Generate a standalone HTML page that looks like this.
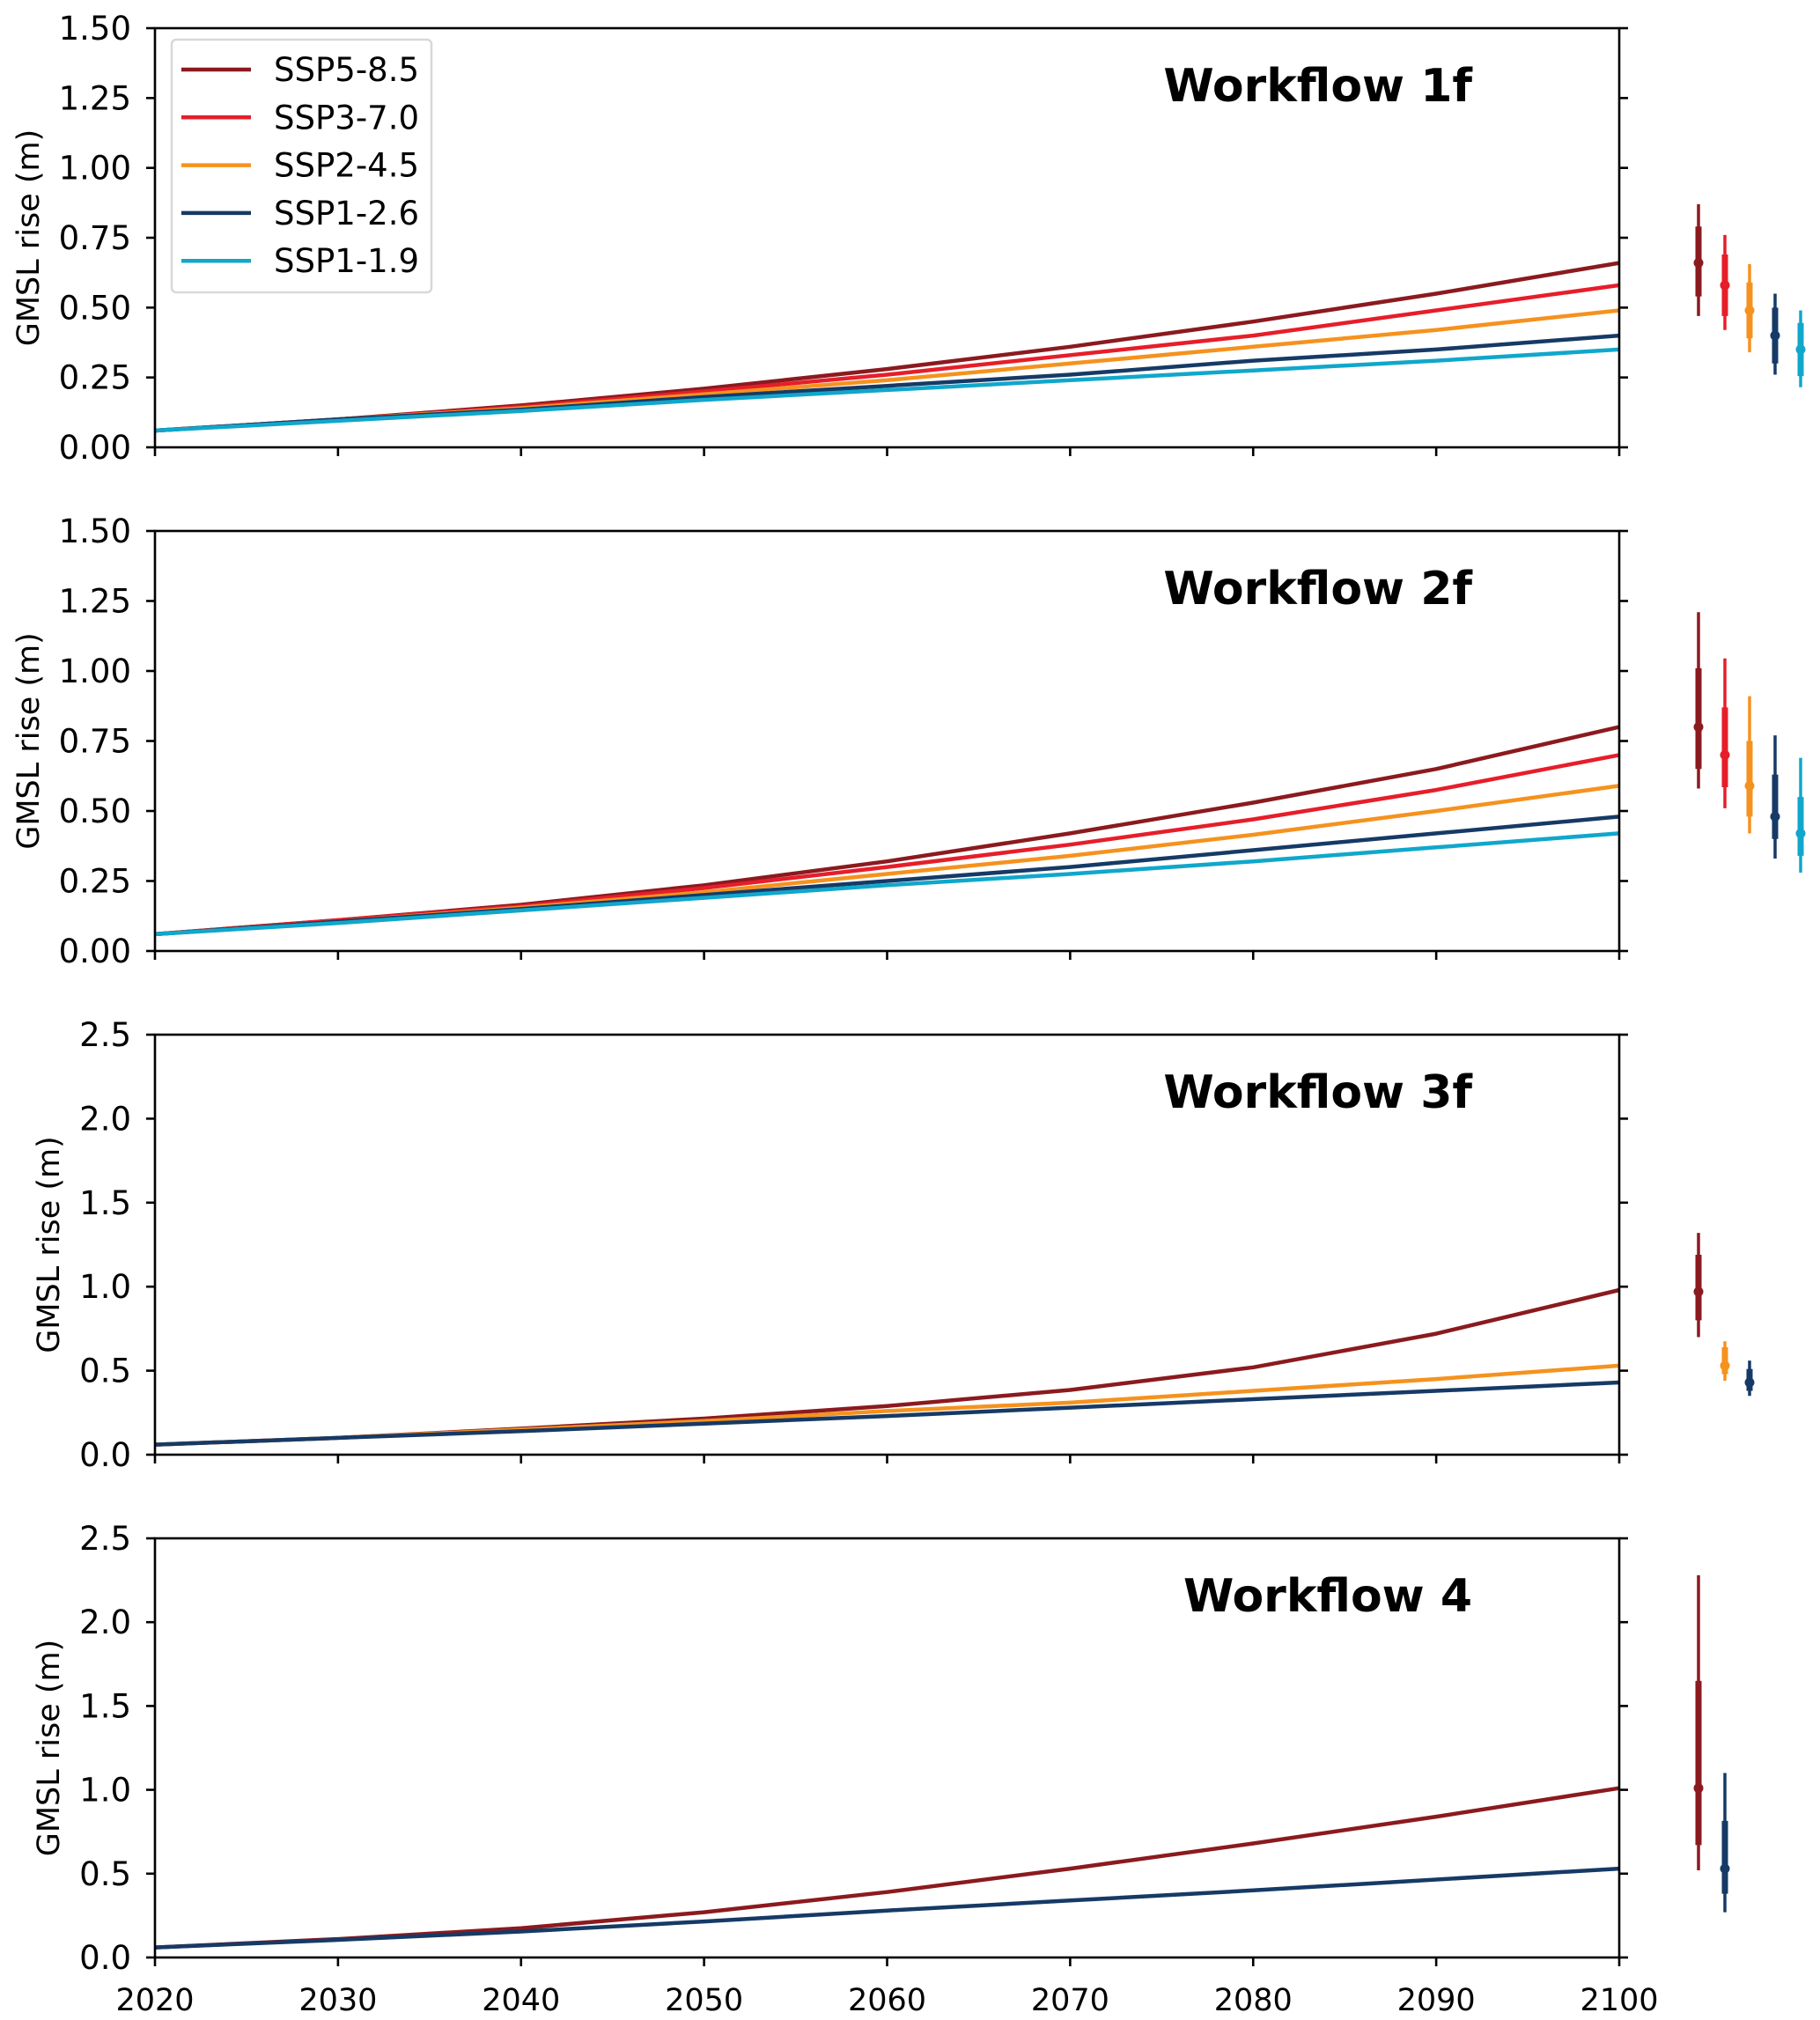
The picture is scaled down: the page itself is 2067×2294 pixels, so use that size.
<!DOCTYPE html>
<html><head><meta charset="utf-8"><style>
html,body{margin:0;padding:0;background:#fff;}
svg{display:block;font-family:"DejaVu Sans","Liberation Sans",sans-serif;}
</style></head><body>
<svg id="c" width="2067" height="2294" viewBox="0 0 2067 2294" xmlns="http://www.w3.org/2000/svg"></svg>
<script>
const years=[2020,2030,2040,2050,2060,2070,2080,2090,2100];
const scenarioNames=["SSP5-8.5","SSP3-7.0","SSP2-4.5","SSP1-2.6","SSP1-1.9"];
const scenarioColors={"SSP5-8.5":"#8b1a1f","SSP3-7.0":"#e61e2a","SSP2-4.5":"#f5921e","SSP1-2.6":"#163a66","SSP1-1.9":"#10a7cb"};
const panelTitles=["Workflow 1f","Workflow 2f","Workflow 3f","Workflow 4"];
const yTicks1=[0,0.25,0.5,0.75,1.0,1.25,1.5];
const yTickLabels1=["0.00","0.25","0.50","0.75","1.00","1.25","1.50"];
const yTicks2=[0,0.5,1.0,1.5,2.0,2.5];
const yTickLabels2=["0.0","0.5","1.0","1.5","2.0","2.5"];
// panel 1 series
const p1_ssp585=[0.06,0.10,0.15,0.21,0.28,0.36,0.45,0.55,0.66];
const p1_ssp370=[0.06,0.10,0.145,0.20,0.26,0.33,0.40,0.49,0.58];
const p1_ssp245=[0.06,0.10,0.14,0.19,0.24,0.30,0.36,0.42,0.49];
const p1_ssp126=[0.06,0.10,0.135,0.18,0.22,0.26,0.31,0.35,0.40];
const p1_ssp119=[0.06,0.095,0.13,0.17,0.205,0.24,0.275,0.31,0.35];
// panel 2
const p2_ssp585=[0.06,0.11,0.165,0.235,0.32,0.42,0.53,0.65,0.80];
const p2_ssp370=[0.06,0.11,0.16,0.225,0.30,0.38,0.47,0.575,0.70];
const p2_ssp245=[0.06,0.105,0.155,0.21,0.275,0.34,0.415,0.50,0.59];
const p2_ssp126=[0.06,0.105,0.15,0.20,0.25,0.30,0.36,0.42,0.48];
const p2_ssp119=[0.06,0.10,0.145,0.19,0.235,0.275,0.32,0.37,0.42];
// panel 3
const p3_ssp585=[0.06,0.10,0.155,0.215,0.29,0.385,0.52,0.72,0.98];
const p3_ssp245=[0.06,0.10,0.15,0.20,0.26,0.31,0.38,0.45,0.53];
const p3_ssp126=[0.06,0.10,0.14,0.185,0.23,0.28,0.33,0.38,0.43];
// panel 4
const p4_ssp585=[0.06,0.11,0.175,0.27,0.39,0.53,0.68,0.84,1.01];
const p4_ssp126=[0.06,0.105,0.155,0.215,0.28,0.34,0.40,0.465,0.53];
// 2100 ranges: [p5, p17, median, p83, p95]
const r1=[[0.47,0.54,0.66,0.79,0.87],[0.42,0.47,0.58,0.69,0.76],[0.34,0.39,0.49,0.59,0.656],[0.26,0.30,0.40,0.50,0.55],[0.215,0.255,0.35,0.445,0.49]];
const r2=[[0.58,0.65,0.80,1.01,1.21],[0.51,0.585,0.70,0.87,1.045],[0.42,0.48,0.59,0.75,0.91],[0.33,0.40,0.48,0.63,0.77],[0.28,0.34,0.42,0.55,0.69]];
const r3=[[0.70,0.80,0.97,1.19,1.32],[0.44,0.48,0.53,0.64,0.675],[0.35,0.38,0.43,0.51,0.56]];
const r4=[[0.52,0.67,1.01,1.65,2.28],[0.27,0.38,0.53,0.815,1.10]];

const panels=[
 {top:32,bot:508,ymax:1.5,ticks:yTicks1,labels:yTickLabels1,lx:32,series:[["SSP5-8.5",p1_ssp585],["SSP3-7.0",p1_ssp370],["SSP2-4.5",p1_ssp245],["SSP1-2.6",p1_ssp126],["SSP1-1.9",p1_ssp119]],ranges:r1,legend:true},
 {top:603,bot:1080,ymax:1.5,ticks:yTicks1,labels:yTickLabels1,lx:32,series:[["SSP5-8.5",p2_ssp585],["SSP3-7.0",p2_ssp370],["SSP2-4.5",p2_ssp245],["SSP1-2.6",p2_ssp126],["SSP1-1.9",p2_ssp119]],ranges:r2},
 {top:1175,bot:1652,ymax:2.5,ticks:yTicks2,labels:yTickLabels2,lx:55,series:[["SSP5-8.5",p3_ssp585],["SSP2-4.5",p3_ssp245],["SSP1-2.6",p3_ssp126]],ranges:r3},
 {top:1747,bot:2223,ymax:2.5,ticks:yTicks2,labels:yTickLabels2,lx:55,series:[["SSP5-8.5",p4_ssp585],["SSP1-2.6",p4_ssp126]],ranges:r4,xlabels:true}
];
const L=176,R=1839;
const barX=[1929,1959,1987,2016,2045];
const svg=document.getElementById('c');
const NS="http://www.w3.org/2000/svg";
function mk(tag,attrs,parent){const e=document.createElementNS(NS,tag);for(const k in attrs)e.setAttribute(k,attrs[k]);(parent||svg).appendChild(e);return e;}
function xs(yr){return L+(yr-2020)/80*(R-L);}
panels.forEach((p,pi)=>{
 const g=mk('g',{});
 
 
 const ys=v=>p.bot-v/p.ymax*(p.bot-p.top);
 p.series.forEach(([nm,vals])=>{
  const d=vals.map((v,i)=>(i?'L':'M')+xs(years[i]).toFixed(1)+','+ys(v).toFixed(1)).join(' ');
  const pl=mk('path',{d:d,fill:'none',stroke:scenarioColors[nm],'stroke-width':4.5,'stroke-linejoin':'round'},g);
  
  
 });
 const fr=mk('rect',{x:L,y:p.top,width:R-L,height:p.bot-p.top,fill:'none',stroke:'#000','stroke-width':2.6},g);
 
 
 p.ticks.forEach((t,i)=>{
  const y=ys(t);
  mk('line',{x1:L-10,x2:L,y1:y,y2:y,stroke:'#000','stroke-width':2.6},g);
  mk('line',{x1:R,x2:R+10,y1:y,y2:y,stroke:'#000','stroke-width':2.6},g);
  const tx=mk('text',{x:149,y:y+13,'text-anchor':'end','font-size':37,fill:'#000'},g);
  tx.textContent=p.labels[i];
  
  
 });
 years.forEach(yr=>{
  const x=xs(yr);
  mk('line',{x1:x,x2:x,y1:p.bot,y2:p.bot+10,stroke:'#000','stroke-width':2.6},g);
  if(p.xlabels){
   const tx=mk('text',{x:x,y:2283,'text-anchor':'middle','font-size':35,fill:'#000'},g);
   tx.textContent=yr;
   
   
  }
 });
 const cy=(p.top+p.bot)/2;
 const yt=mk('text',{x:p.lx,y:cy,'text-anchor':'middle','font-size':35,fill:'#000',transform:`rotate(-90 ${p.lx} ${cy}) translate(0 12)`},g);
 yt.textContent='GMSL rise (m)';
 
 
 const tt=mk('text',{x:1672,y:p.top+64+19,'text-anchor':'end','font-size':52,'font-weight':'bold',fill:'#000'},g);
 tt.textContent=panelTitles[pi];
 
 
 p.ranges.forEach((r,i)=>{
  const col=scenarioColors[p.series[i][0]];
  const x=barX[i];
  const bg=mk('g',{},g);
  
  
  mk('line',{x1:x,x2:x,y1:ys(r[0]),y2:ys(r[4]),stroke:col,'stroke-width':3.5},bg);
  mk('line',{x1:x,x2:x,y1:ys(r[1]),y2:ys(r[3]),stroke:col,'stroke-width':7},bg);
  mk('circle',{cx:x,cy:ys(r[2]),r:5.5,fill:col},bg);
 });
 if(p.legend){
  const lg=mk('g',{},g);
  
  
  mk('rect',{x:195,y:45,width:295,height:287,rx:5,fill:'#fff',stroke:'#d8d8d8','stroke-width':2.5},lg);
  scenarioNames.forEach((nm,i)=>{
   const y=79+i*54.3;
   const ln=mk('line',{x1:206,x2:285,y1:y,y2:y,stroke:scenarioColors[nm],'stroke-width':4.5},lg);
   
   
   const t=mk('text',{x:311,y:y+13,'font-size':37,fill:'#000'},lg);
   t.textContent=nm;
   
   
  });
 }
});
</script>
</body></html>
